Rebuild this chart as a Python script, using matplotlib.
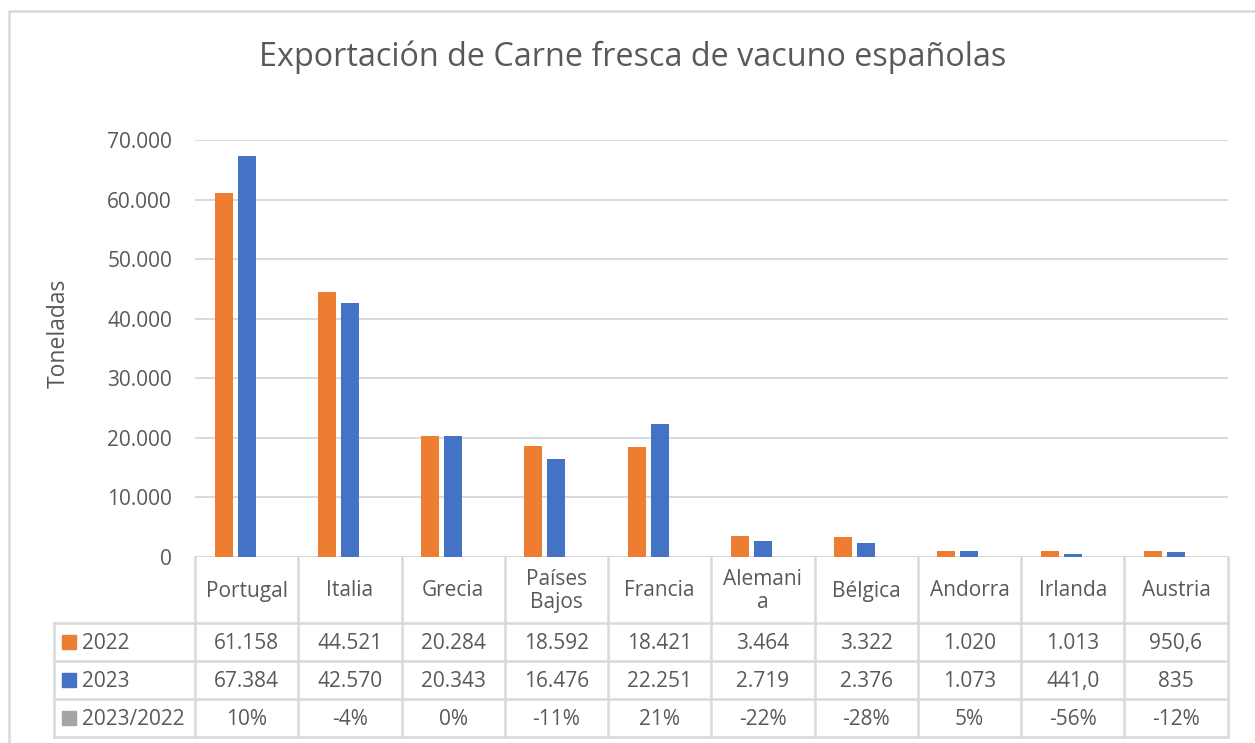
import matplotlib.pyplot as plt
import matplotlib.transforms as mtransforms
from matplotlib.lines import Line2D
from matplotlib.patches import Rectangle
import numpy as np

paises = ["Portugal", "Italia", "Grecia", "Países\nBajos", "Francia",
          "Alemani\na", "Bélgica", "Andorra", "Irlanda", "Austria"]
t2022 = [61158, 44521, 20284, 18592, 18421, 3464, 3322, 1020, 1013, 950.6]
t2023 = [67384, 42570, 20343, 16476, 22251, 2719, 2376, 1073, 441.0, 835]
var = [0.10, -0.04, 0.00, -0.11, 0.21, -0.22, -0.28, 0.05, -0.56, -0.12]
txt2022 = ["61.158", "44.521", "20.284", "18.592", "18.421",
           "3.464", "3.322", "1.020", "1.013", "950,6"]
txt2023 = ["67.384", "42.570", "20.343", "16.476", "22.251",
           "2.719", "2.376", "1.073", "441,0", "835"]
txtvar = [f"{round(v * 100):.0f}%" for v in var]
series = ["2022", "2023", "2023/2022"]
colores = ["#ED7D31", "#4472C4", "#A5A5A5"]
yticks = np.arange(0, 70001, 10000)

plt.rcParams['font.family'] = ['Open Sans', 'DejaVu Sans']
gris_txt = "#595959"
gris_lin = "#D9D9D9"
W, H = 1255, 743
fs = 15

fig = plt.figure(figsize=(W / 100, H / 100), dpi=100)
ax_w = 1227.6 - 195
ax = fig.add_axes([195 / W, 1 - 557 / H, ax_w / W, (557 - 140) / H])

x = np.arange(len(paises))
paso = 0.223
ancho = 0.174
for i, (vals, c) in enumerate(zip([t2022, t2023, var], colores)):
    ax.bar(x + (i - 1) * paso, vals, ancho, color=c, zorder=3)

ax.set_xlim(-0.5, len(paises) - 0.5)
ax.set_ylim(0, 70000)
ax.set_yticks(yticks)
ax.set_yticklabels([f"{v:,.0f}".replace(",", ".") for v in yticks])
ax.set_xticks([])
ax.tick_params(axis="y", length=0, pad=16.5, labelsize=fs, labelcolor=gris_txt)
ax.grid(axis="y", color=gris_lin, lw=1.4, zorder=0)
for s in ax.spines.values():
    s.set_visible(False)
ax.set_ylabel("Toneladas", fontsize=16.5, color=gris_txt)
ax.yaxis.label.set_va("center")
ax.yaxis.set_label_coords(-(195 - 59) / ax_w, (557 - 333) / (557 - 140))

fig.text(633 / W, 1 - 57 / H, "Exportación de Carne fresca de vacuno españolas",
         ha="center", va="center", fontsize=23.3, color=gris_txt)

# tabla de datos
def fy(ypx):
    return 1 - ypx / H

bt = mtransforms.blended_transform_factory(ax.transData, fig.transFigure)
ft = fig.transFigure
filas_y = [557, 622.7, 660.7, 699, 737]
x_izq = -0.5 - (195 - 54) / (ax_w / len(paises))
x_der = len(paises) - 0.5

def linea(xs, ys, tr):
    fig.add_artist(Line2D(xs, ys, transform=tr, color=gris_lin, lw=1.8, clip_on=False))

for yy in filas_y[1:]:
    linea([x_izq, x_der], [fy(yy), fy(yy)], bt)
for b in np.arange(len(paises) + 1) - 0.5:
    linea([b, b], [fy(557), fy(737)], bt)
linea([x_izq, x_izq], [fy(622.7), fy(737)], bt)

for i, p in enumerate(paises):
    fig.text(i, fy(591), p, transform=bt, ha="center", va="center",
             fontsize=fs, color=gris_txt, linespacing=1.15)

filas = [txt2022, txt2023, txtvar]
for r, (nombre, textos, c) in enumerate(zip(series, filas, colores)):
    yc = (filas_y[r + 1] + filas_y[r + 2]) / 2
    fig.add_artist(Rectangle((62 / W, fy(yc + 7)), 14 / W, 14 / H, transform=ft,
                             color=c, clip_on=False))
    fig.text(82 / W, fy(yc + 1.5), nombre, ha="left", va="center", fontsize=fs, color=gris_txt)
    for i, t in enumerate(textos):
        fig.text(i, fy(yc + 1.5), t, transform=bt, ha="center", va="center",
                 fontsize=fs, color=gris_txt)

# marco exterior
fig.add_artist(Line2D([9 / W, 9 / W, 1], [0, fy(11), fy(11)], transform=ft,
                      color=gris_lin, lw=1.8, clip_on=False))

fig.savefig("out.png", dpi=100)
